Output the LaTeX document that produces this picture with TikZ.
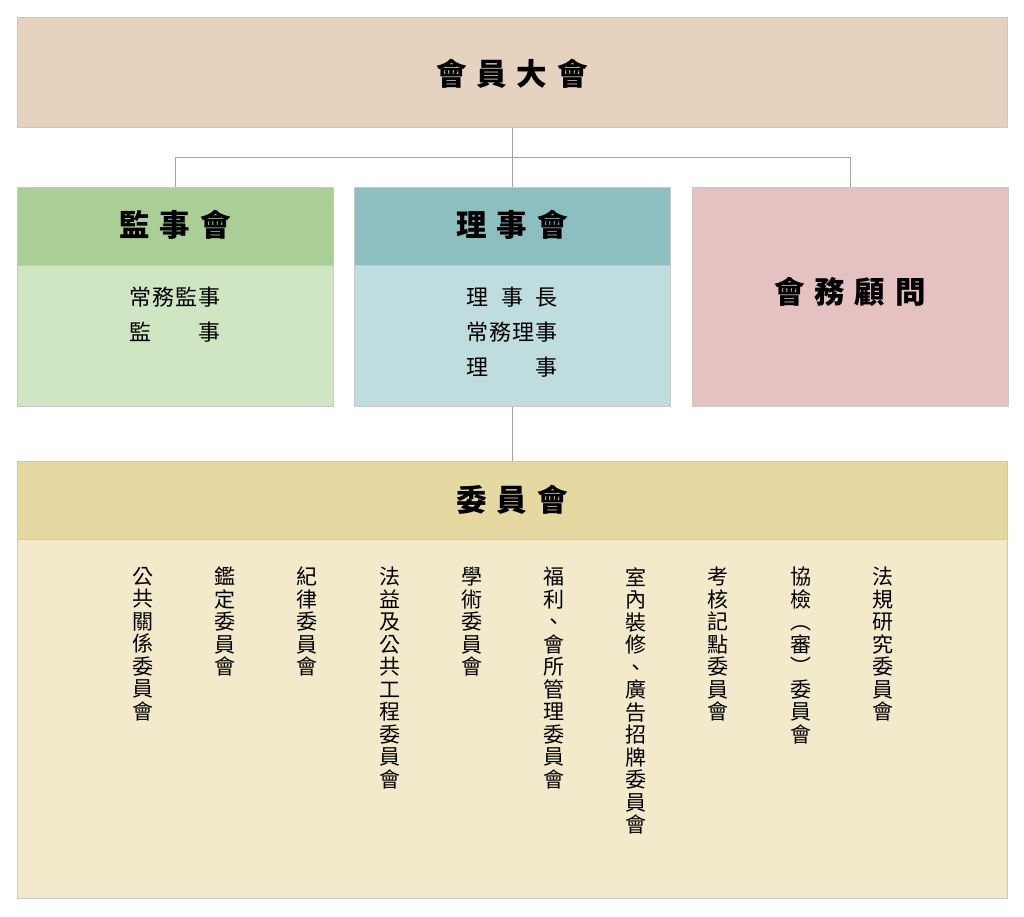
\documentclass[tikz,border=0pt]{standalone}
\usepackage{fontspec}
\setmainfont{Noto Sans CJK TC}
\usetikzlibrary{positioning}

\definecolor{boxLine}{HTML}{C9C9C9}
\definecolor{connLine}{HTML}{A3A3A3}
\definecolor{generalFill}{HTML}{E5D3C0}
\definecolor{superHead}{HTML}{A9CF96}
\definecolor{superBody}{HTML}{D0E6C3}
\definecolor{directHead}{HTML}{8DBFC1}
\definecolor{directBody}{HTML}{BFDDDF}
\definecolor{adviseFill}{HTML}{E5C1C1}
\definecolor{commHead}{HTML}{E5D8A0}
\definecolor{commBody}{HTML}{F2EACB}

\newcommand{\tgap}{\hspace{10pt}}
\newcommand{\spreadline}[1]{\makebox[91pt][s]{#1}}

\begin{document}
\begin{tikzpicture}
[x=1pt,y=-1pt,
  boxDecorate/.style={shape=rectangle,draw=boxLine,line width=0.5pt,inner sep=0pt,anchor=north west},%
  titleDecorate/.style={font=\fontsize{30.5}{33}\selectfont\bfseries,inner sep=0pt},%
  textDecorate/.style={font=\fontsize{22}{35}\selectfont,align=center,inner sep=0pt,anchor=north},%
  colDecorate/.style={font=\fontsize{21}{22.5}\selectfont,align=center,inner sep=0pt,anchor=north},%
  lineDecorate/.style={-,draw=connLine,line width=0.8pt}]
\useasboundingbox (0,0) rectangle (1024,916);
%% boxes
\node (general) at (17,17) [boxDecorate,fill=generalFill,minimum width=990pt,minimum height=110pt] {};
\node (supervisors) at (17,187) [boxDecorate,fill=superBody,minimum width=316pt,minimum height=219pt] {};
\node (supervisorsHead) at (17,187) [boxDecorate,fill=superHead,minimum width=316pt,minimum height=78pt] {};
\node (directors) at (354,187) [boxDecorate,fill=directBody,minimum width=316pt,minimum height=219pt] {};
\node (directorsHead) at (354,187) [boxDecorate,fill=directHead,minimum width=316pt,minimum height=78pt] {};
\node (advisors) at (692,187) [boxDecorate,fill=adviseFill,minimum width=316pt,minimum height=219pt] {};
\node (committee) at (17,461) [boxDecorate,fill=commBody,minimum width=990pt,minimum height=437pt] {};
\node (committeeHead) at (17,461) [boxDecorate,fill=commHead,minimum width=990pt,minimum height=78pt] {};
%% titles
\node (generalTitle) at (512,74) [titleDecorate] {會\tgap 員\tgap 大\tgap 會};
\node (supervisorsTitle) at (175,225) [titleDecorate] {監\tgap 事\tgap 會};
\node (directorsTitle) at (512,225) [titleDecorate] {理\tgap 事\tgap 會};
\node (advisorsTitle) at (850,292) [titleDecorate] {會\tgap 務\tgap 顧\tgap 問};
\node (committeeTitle) at (512,500) [titleDecorate] {委\tgap 員\tgap 會};
%% members
\node (supervisorsText) at (175,287) [textDecorate] {\spreadline{常\hfil 務\hfil 監\hfil 事}\\\spreadline{監\hfil 事}};
\node (directorsText) at (512,287) [textDecorate] {\spreadline{理\hfil 事\hfil 長}\\\spreadline{常\hfil 務\hfil 理\hfil 事}\\\spreadline{理\hfil 事}};
%% committees
\foreach \colname/\coltext [count=\i from 0] in {
  cPublic/{公\\共\\關\\係\\委\\員\\會},
  cAppraisal/{鑑\\定\\委\\員\\會},
  cDiscipline/{紀\\律\\委\\員\\會},
  cWorks/{法\\益\\及\\公\\共\\工\\程\\委\\員\\會},
  cAcademic/{學\\術\\委\\員\\會},
  cWelfare/{福\\利\\、\\會\\所\\管\\理\\委\\員\\會},
  cDecor/{室\\內\\裝\\修\\、\\廣\\告\\招\\牌\\委\\員\\會},
  cAssess/{考\\核\\記\\點\\委\\員\\會},
  cInspect/{協\\檢\\︵\\審\\︶\\委\\員\\會},
  cRegulation/{法\\規\\研\\究\\委\\員\\會}}
{
  \node (\colname) at ({143+82.2*\i},567) [colDecorate] {\coltext};
}
%% connectors
\draw[lineDecorate] (general.south) -- (directors.north);
\draw[lineDecorate] (supervisors.north) -- ++(0,-30) -| (advisors.north);
\draw[lineDecorate] (directors.south) -- (committee.north);
\end{tikzpicture}
\end{document}
